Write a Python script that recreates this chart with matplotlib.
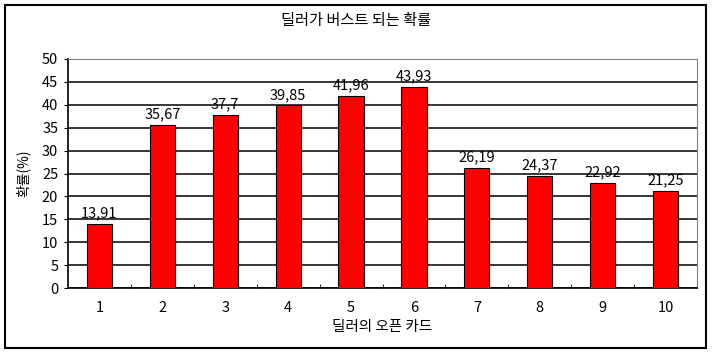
import matplotlib.pyplot as plt
import numpy as np
from matplotlib.patches import Rectangle

plt.rcParams['font.family'] = ['Noto Sans CJK KR', 'DejaVu Sans']

cards = ['1', '2', '3', '4', '5', '6', '7', '8', '9', '10']
bust_pct = [13.91, 35.67, 37.7, 39.85, 41.96, 43.93, 26.19, 24.37, 22.92, 21.25]
bust_labels = ['13,91', '35,67', '37,7', '39,85', '41,96', '43,93', '26,19', '24,37', '22,92', '21,25']

fig = plt.figure(figsize=(7.12, 3.52), dpi=100)
ax = fig.add_axes([68/712, 64/352, 629/712, 229/352])

# outer chart border
fig.patches.append(Rectangle((5/712, 4/352), 701/712, 343/352, transform=fig.transFigure,
                             fill=False, edgecolor='black', linewidth=1.5))

x = np.arange(len(cards))
ax.bar(x, bust_pct, width=0.4, color='#ff0000', edgecolor='black', linewidth=0.8, zorder=3)
for xi, v, lab in zip(x, bust_pct, bust_labels):
    ax.text(xi, v + 0.8, lab, ha='center', va='bottom', fontsize=10.5)

ax.set_xlim(-0.5, len(cards) - 0.5)
ax.set_ylim(0, 50)
ax.set_yticks(range(0, 51, 5))
ax.yaxis.grid(True, color='black', linewidth=1.1, zorder=0)
ax.set_axisbelow(True)

ax.set_xticks(x)
ax.set_xticklabels(cards, fontsize=10.5)
ax.tick_params(axis='x', length=0, pad=9)
ax.set_xticks(np.arange(0.5, len(cards) - 0.5, 1), minor=True)
ax.tick_params(axis='x', which='minor', direction='in', length=3, color='black')
ax.tick_params(axis='y', length=3, labelsize=10.5, pad=4)

for s in ['top', 'right']:
    ax.spines[s].set_color('#808080')
for s in ['left', 'bottom']:
    ax.spines[s].set_color('black')
    ax.spines[s].set_linewidth(1.2)

ax.set_xlabel('딜러의 오픈 카드', fontsize=10.5, labelpad=4)
ax.set_ylabel('확률(%)', fontsize=10, labelpad=8)
fig.text(0.5, 1 - 21/352, '딜러가 버스트 되는 확률', ha='center', va='center', fontsize=11)

fig.savefig('out.png', dpi=100)
